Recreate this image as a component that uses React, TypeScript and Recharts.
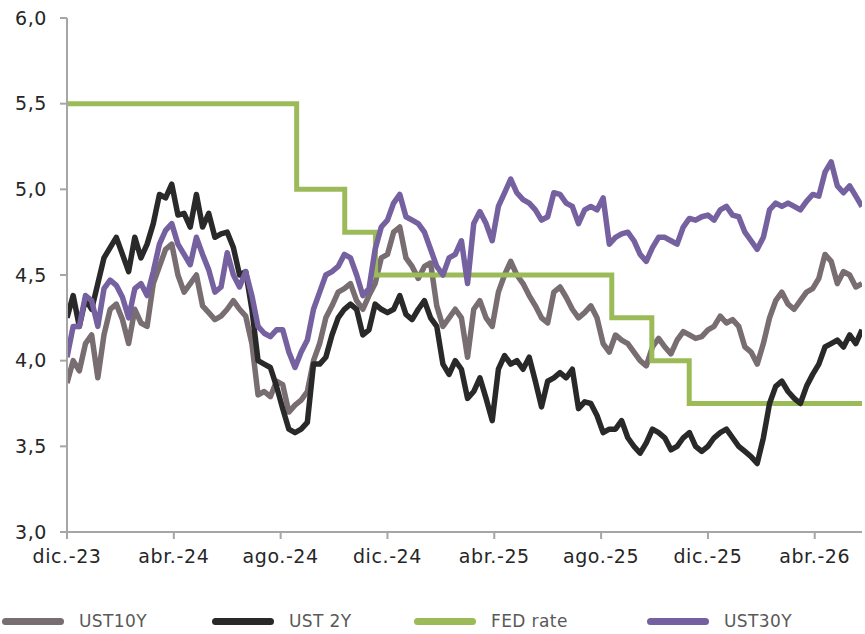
import React from 'react';
import { LineChart, Line, XAxis, YAxis } from 'recharts';

// weekly closes from dic.-23
const ust10y = [
  3.87, 4.0, 3.94, 4.1, 4.15, 3.9, 4.15, 4.3, 4.33, 4.24,
  4.1, 4.3, 4.22, 4.2, 4.45, 4.55, 4.65, 4.68, 4.5, 4.4,
  4.45, 4.5, 4.32, 4.28, 4.24, 4.26, 4.3, 4.35, 4.3, 4.26,
  4.1, 3.8, 3.82, 3.79, 3.88, 3.86, 3.7, 3.74, 3.77, 3.82,
  4.0, 4.1, 4.25, 4.32, 4.4, 4.42, 4.45, 4.35, 4.3, 4.38,
  4.45, 4.6, 4.62, 4.75, 4.78, 4.6, 4.55, 4.48, 4.55, 4.57,
  4.32, 4.2, 4.25, 4.3, 4.25, 4.02, 4.3, 4.35, 4.25, 4.2,
  4.4, 4.5, 4.58, 4.5, 4.45, 4.38, 4.32, 4.25, 4.22, 4.4,
  4.43, 4.37, 4.3, 4.25, 4.28, 4.32, 4.25, 4.1, 4.05, 4.15,
  4.12, 4.1, 4.05, 4.0, 3.97, 4.08, 4.13, 4.08, 4.04, 4.12,
  4.17, 4.15, 4.13, 4.14, 4.18, 4.2, 4.26, 4.22, 4.24, 4.2,
  4.08, 4.05, 3.98, 4.1, 4.25, 4.35, 4.4, 4.33, 4.3, 4.35,
  4.4, 4.42, 4.48, 4.62, 4.58, 4.45, 4.52, 4.5, 4.43, 4.45,
];

const ust2y = [
  4.25, 4.38, 4.2, 4.36, 4.3, 4.45, 4.6, 4.66, 4.72, 4.62,
  4.52, 4.72, 4.6, 4.68, 4.8, 4.97, 4.95, 5.03, 4.85, 4.86,
  4.78, 4.97, 4.78, 4.86, 4.72, 4.74, 4.75, 4.66, 4.5, 4.52,
  4.3, 4.0, 3.98, 3.96, 3.85, 3.72, 3.6, 3.58, 3.6, 3.64,
  3.98, 3.98, 4.02, 4.15, 4.25, 4.3, 4.33, 4.3, 4.15, 4.18,
  4.33, 4.3, 4.28, 4.3, 4.38, 4.27, 4.24, 4.3, 4.35, 4.25,
  4.2, 3.98, 3.92, 4.0, 3.95, 3.78, 3.82, 3.9, 3.78, 3.65,
  3.95, 4.03, 3.98, 4.0, 3.95, 4.02, 3.88, 3.73, 3.88, 3.9,
  3.93, 3.9, 3.95, 3.72, 3.76, 3.75, 3.68, 3.58, 3.6, 3.6,
  3.65, 3.55, 3.5, 3.46, 3.52, 3.6, 3.58, 3.55, 3.48, 3.5,
  3.55, 3.58, 3.5, 3.47, 3.5, 3.55, 3.58, 3.6, 3.55, 3.5,
  3.47, 3.44, 3.4, 3.55, 3.75, 3.85, 3.88, 3.82, 3.78, 3.75,
  3.85, 3.92, 3.98, 4.08, 4.1, 4.12, 4.08, 4.15, 4.1, 4.18,
];

const ust30y = [
  4.02, 4.2, 4.2, 4.38, 4.35, 4.2, 4.42, 4.47, 4.44, 4.37,
  4.25, 4.42, 4.45, 4.38, 4.52, 4.68, 4.76, 4.8, 4.68, 4.62,
  4.56, 4.72, 4.62, 4.53, 4.4, 4.43, 4.63, 4.5, 4.43, 4.52,
  4.38, 4.2, 4.16, 4.14, 4.18, 4.18, 4.05, 3.96, 4.05, 4.12,
  4.3, 4.4, 4.5, 4.52, 4.55, 4.62, 4.6, 4.5, 4.38, 4.42,
  4.65, 4.78, 4.82, 4.92, 4.97, 4.84, 4.82, 4.8, 4.75, 4.65,
  4.55, 4.5, 4.6, 4.62, 4.7, 4.45, 4.8, 4.87, 4.8, 4.7,
  4.9, 4.98, 5.06, 4.98, 4.94, 4.92, 4.88, 4.82, 4.84, 4.98,
  4.97, 4.92, 4.9, 4.8, 4.88, 4.9, 4.88, 4.95, 4.68, 4.72,
  4.74, 4.75, 4.7, 4.62, 4.58, 4.66, 4.72, 4.72, 4.7, 4.68,
  4.78, 4.83, 4.82, 4.84, 4.85, 4.82, 4.88, 4.9, 4.85, 4.84,
  4.75, 4.7, 4.65, 4.72, 4.88, 4.92, 4.9, 4.92, 4.9, 4.88,
  4.93, 4.97, 4.96, 5.1, 5.16, 5.02, 4.98, 5.02, 4.96, 4.9,
];

// FED rate steps, months after dic.-23
const fedMonths = [0, 8.6, 10.4, 11.55, 20.4, 21.9, 23.3, 29.77];
const fedRates = [5.5, 5.0, 4.75, 4.5, 4.25, 4.0, 3.75, 3.75];

const monthTicks = [0, 4, 8, 12, 16, 20, 24, 28];
const monthLabels = ['dic.-23', 'abr.-24', 'ago.-24', 'dic.-24', 'abr.-25', 'ago.-25', 'dic.-25', 'abr.-26'];
const yTicks = [3.0, 3.5, 4.0, 4.5, 5.0, 5.5, 6.0];

const WEEK = 12 / 52;

const seriesData = ust2y.map((v, i) => ({
  m: i * WEEK,
  ust10: ust10y[i],
  ust2: v,
  ust30: ust30y[i],
}));

const fedData = fedMonths.map((m, i) => ({ m, fed: fedRates[i] }));

const legendItems = [
  { name: 'UST10Y', color: '#786d71', left: 2 },
  { name: 'UST 2Y', color: '#292929', left: 212 },
  { name: 'FED rate', color: '#9bbb59', left: 414 },
  { name: 'UST30Y', color: '#7561a0', left: 647 },
];

const FONT = '"DejaVu Sans", sans-serif';

const App: React.FC = () => {
  return (
    <div style={{ position: 'absolute', left: 0, top: 0, width: 865, height: 634, background: '#fff' }}>
      <LineChart
        width={865}
        height={634}
        margin={{ top: 18, right: 3, left: 0, bottom: 62 }}
      >
        <XAxis
          type="number"
          dataKey="m"
          domain={[0, 29.77]}
          ticks={monthTicks}
          tickFormatter={(v: number) => monthLabels[monthTicks.indexOf(v)] ?? ''}
          height={40}
          tickSize={7}
          tickMargin={11}
          stroke="#a6a6a6"
          strokeWidth={2}
          tick={{ fill: '#262626', fontSize: 19, fontFamily: FONT, letterSpacing: 0.6 }}
          allowDataOverflow
        />
        <YAxis
          domain={[3, 6]}
          ticks={yTicks}
          tickFormatter={(v: number) => v.toFixed(1).replace('.', ',')}
          width={67}
          tickSize={7}
          tickMargin={13}
          stroke="#a6a6a6"
          strokeWidth={2}
          tick={{ fill: '#262626', fontSize: 19, fontFamily: FONT, letterSpacing: 0.6 }}
        />
        <Line
          data={seriesData}
          dataKey="ust10"
          stroke="#786d71"
          strokeWidth={5.5}
          strokeLinejoin="round"
          dot={false}
          activeDot={false}
          isAnimationActive={false}
        />
        <Line
          data={fedData}
          dataKey="fed"
          type="stepAfter"
          stroke="#9bbb59"
          strokeWidth={5}
          dot={false}
          activeDot={false}
          isAnimationActive={false}
        />
        <Line
          data={seriesData}
          dataKey="ust2"
          stroke="#292929"
          strokeWidth={5.5}
          strokeLinejoin="round"
          dot={false}
          activeDot={false}
          isAnimationActive={false}
        />
        <Line
          data={seriesData}
          dataKey="ust30"
          stroke="#7561a0"
          strokeWidth={5.5}
          strokeLinejoin="round"
          dot={false}
          activeDot={false}
          isAnimationActive={false}
        />
      </LineChart>
      {legendItems.map((it) => (
        <div
          key={it.name}
          style={{
            position: 'absolute',
            left: it.left,
            top: 611,
            display: 'flex',
            alignItems: 'center',
            fontFamily: FONT,
            fontSize: 17,
            letterSpacing: 0.4,
            color: '#595959',
          }}
        >
          <span
            style={{
              display: 'inline-block',
              width: 62,
              height: 7,
              borderRadius: 4,
              background: it.color,
              marginRight: 15,
            }}
          />
          {it.name}
        </div>
      ))}
    </div>
  );
};

export default App;
